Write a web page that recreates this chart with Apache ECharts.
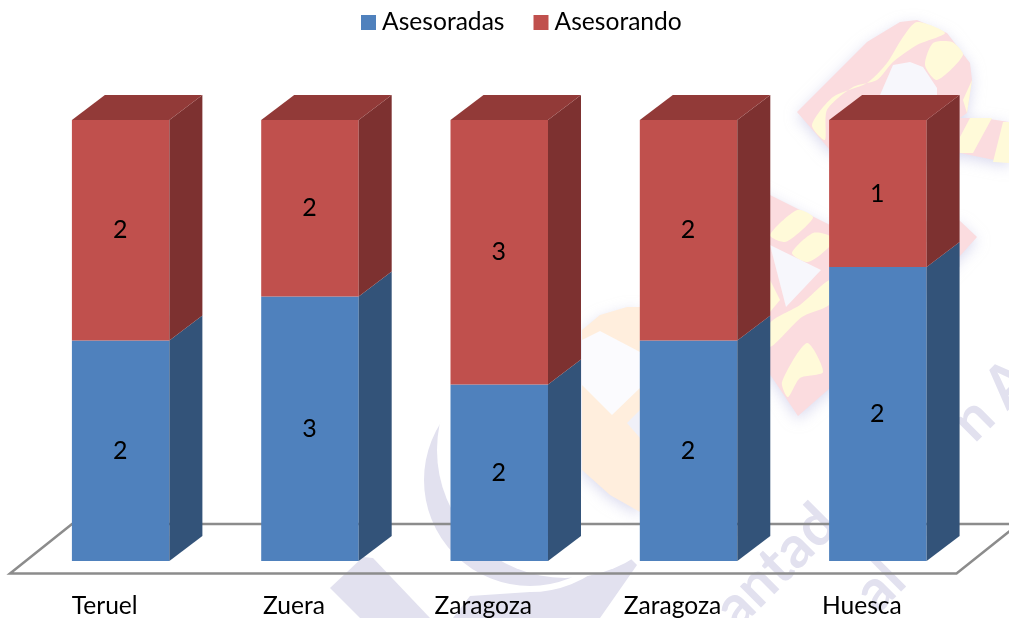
<!DOCTYPE html>
<html>
<head>
<meta charset="utf-8">
<style>html,body{margin:0;padding:0;background:#fff}#c{width:1009px;height:618px}</style>
<script src="https://cdn.jsdelivr.net/npm/echarts@6/dist/echarts.min.js"></script>
</head>
<body>
<div id="c"></div>
<script>
const categories = ['Teruel', 'Zuera', 'Zaragoza', 'Zaragoza', 'Huesca'];
const asesoradas = [2, 3, 2, 2, 2];
const asesorando = [2, 2, 3, 2, 1];
const FONT = 'Lato, "Open Sans", sans-serif';
const DX = 33, DY = 25;

function barSeries(name, values, baseValues, front, side, top) {
  return {
    type: 'custom', name: name, z: 3,
    itemStyle: {color: front},
    data: values.map((v, i) => [i, v]),
    renderItem(params, api) {
      const i = api.value(0), v = api.value(1);
      const total = asesoradas[i] + asesorando[i];
      const from = (baseValues ? baseValues[i] : 0) / total;
      const to = from + v / total;
      const a = api.coord([i, from]), b = api.coord([i, to]);
      const w = api.size([1, 0])[0] * 0.515;
      const l = a[0] - w / 2, r = a[0] + w / 2;
      const kids = [
        {type: 'rect', shape: {x: l, y: b[1], width: w, height: a[1] - b[1]}, style: {fill: front}},
        {type: 'polygon', shape: {points: [[r, a[1]], [r + DX, a[1] - DY], [r + DX, b[1] - DY], [r, b[1]]]}, style: {fill: side}}
      ];
      if (top) kids.push({type: 'polygon', shape: {points: [[l, b[1]], [l + DX, b[1] - DY], [r + DX, b[1] - DY], [r, b[1]]]}, style: {fill: top}});
      kids.push({type: 'text', z2: 5, style: {text: String(v), x: a[0] - 0.5, y: (a[1] + b[1]) / 2, align: 'center', verticalAlign: 'middle', fontSize: 25, fontFamily: FONT, fill: '#000'}});
      return {type: 'group', children: kids};
    }
  };
}

const lav = '#e2e1ef', pink = '#fbdcdf', yel = '#fffad9', peach = '#ffeedd';
const glow = {shadowBlur: 14, shadowColor: 'rgba(190,190,225,0.55)', shadowOffsetY: 4};
const poly = (pts, fill, extra) => ({type: 'polygon', silent: true, shape: {points: pts}, style: Object.assign({fill: fill}, extra || {})});
const curve = (pts, fill) => ({type: 'polygon', silent: true, shape: {points: pts, smooth: 0.25}, style: {fill: fill}});
const disc = (cx, cy, r, fill) => ({type: 'circle', silent: true, shape: {cx: cx, cy: cy, r: r}, style: {fill: fill}});
const word = (t, x, y, rot, size) => ({type: 'text', silent: true, x: x, y: y, rotation: rot * Math.PI / 180,
  style: {text: t, fontSize: size, fontWeight: 'bold', fontFamily: FONT, fill: lav, align: 'center', verticalAlign: 'middle'}});
const watermark = [
  // lavender seal
  poly([[453, 618], [470, 596], [530, 592], [580, 575], [610, 538], [637, 565], [600, 618]], lav),
  {type: 'circle', silent: true, shape: {cx: 530, cy: 480, r: 109}, style: {fill: lav, stroke: '#fff', lineWidth: 6}},
  disc(565, 450, 128, '#fff'),
  poly([[330, 588], [363, 557], [373, 558], [430, 618], [360, 618]], lav),
  // peach mark
  poly([[582, 330], [600, 315], [627, 307], [640, 307], [640, 512], [610, 495], [582, 470]], peach, glow),
  poly([[582, 340], [600, 331], [640, 352], [640, 388], [612, 415], [582, 385]], '#fbfbfe'),
  poly([[627, 423], [640, 410], [640, 438]], '#f0f0f8'),
  // ribbon, upper
  poly([[797, 112], [867, 42], [900, 22], [917, 20], [947, 33], [970, 63], [972, 80], [967, 113], [960, 118], [983, 118], [1009, 122], [1009, 163], [960, 153], [900, 165], [830, 150]], pink, glow),
  curve([[812, 125], [833, 97], [867, 83], [887, 63], [903, 37], [917, 22], [945, 33], [917, 45], [893, 62], [877, 80], [853, 87], [827, 110], [825, 140]], yel),
  curve([[925, 65], [933, 43], [952, 42], [963, 55], [937, 80]], yel),
  poly([[963, 100], [972, 80], [967, 113]], yel),
  poly([[880, 95], [893, 65], [910, 62], [923, 67], [937, 88], [937, 95]], '#f7f7fc'),
  poly([[960, 137], [970, 118], [992, 118], [973, 153], [960, 153]], yel),
  poly([[1003, 122], [1009, 122], [1009, 163], [993, 162]], yel),
  // ribbon, lower
  poly([[740, 180], [830, 225], [959, 220], [977, 237], [959, 257], [830, 388], [798, 416], [740, 330]], pink, glow),
  curve([[770, 235], [797, 210], [813, 217], [802, 230], [785, 242]], yel),
  curve([[792, 253], [813, 233], [830, 236], [830, 246], [808, 262]], yel),
  poly([[770, 245], [821, 270], [786, 307]], '#f7f7fc'),
  poly([[770, 280], [780, 300], [770, 312]], yel),
  curve([[770, 323], [800, 305], [830, 280], [830, 304], [802, 317], [770, 347]], yel),
  curve([[807, 343], [823, 372], [800, 378], [788, 397], [782, 382]], yel),
  // lettering
  word('antad', 776, 566, 45, 58),
  word('al', 880, 586, 45, 58),
  word('n A', 992, 400, 45, 58)
];

const chart = echarts.init(document.getElementById('c'));
chart.setOption({
  animation: false,
  backgroundColor: '#fff',
  graphic: {z: 0, elements: watermark},
  legend: {
    data: ['Asesoradas', 'Asesorando'], left: 356, top: 5, itemWidth: 15, itemHeight: 15, itemGap: 29,
    icon: 'rect', textStyle: {fontSize: 24.6, fontFamily: FONT, color: '#000', padding: [0, 0, 0, 1]}
  },
  grid: {left: 26, top: 120, width: 946.5, height: 441, outerBoundsMode: 'none'},
  xAxis: {
    type: 'category', data: categories,
    axisLine: {show: false}, axisTick: {show: false},
    axisLabel: {interval: 0, margin: 33, fontSize: 24.6, fontFamily: FONT, color: '#000', padding: [0, 32, 0, 0]}
  },
  yAxis: {type: 'value', min: 0, max: 1, show: false},
  series: [
    {
      type: 'custom', name: 'suelo', z: 2, silent: true, data: [[0]],
      renderItem(params) {
        const s = params.coordSys, y = s.y + s.height + 12.5;
        const x0 = s.x - 16, x1 = s.x + s.width - 16;
        return {type: 'polygon', shape: {points: [[x0, y], [x0 + 62, y - 49.5], [x1 + 62, y - 49.5], [x1, y]]},
          style: {fill: null, stroke: '#8c8c8c', lineWidth: 2.5}};
      }
    },
    barSeries('Asesoradas', asesoradas, null, '#4f81bd', '#335379', null),
    barSeries('Asesorando', asesorando, asesoradas, '#c0504d', '#7d3130', '#923a38')
  ]
});
</script>
</body>
</html>
